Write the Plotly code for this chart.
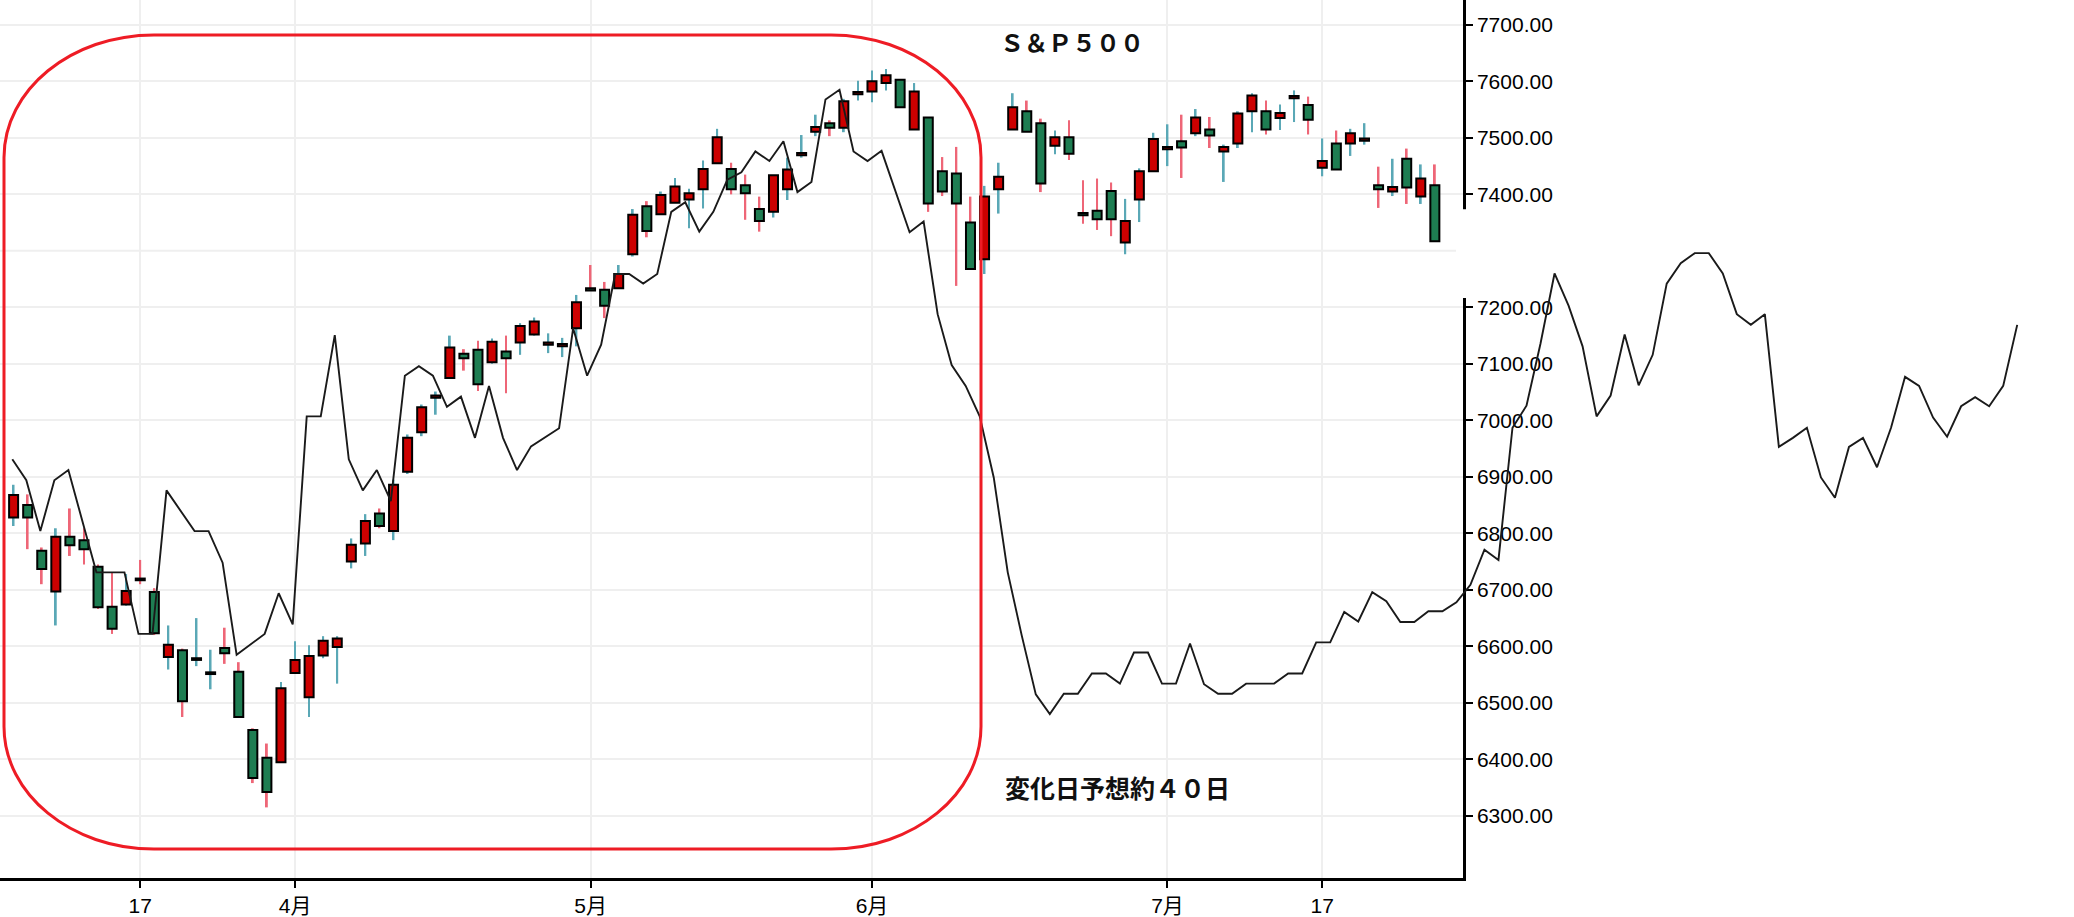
import pandas as pd
import plotly.graph_objects as go

# trading days (NYSE holidays removed)
holidays = ["2026-04-03", "2026-05-25", "2026-06-19", "2026-07-03"]
dates = pd.bdate_range("2026-03-04", "2026-07-29", freq="C",
                       holidays=holidays).strftime("%Y-%m-%d").tolist()

opens = [6828, 6850, 6769, 6697, 6794, 6788, 6741, 6670, 6674, 6720,
         6696, 6581, 6593, 6576, 6551, 6597, 6555, 6452, 6403, 6395,
         6553, 6510, 6584, 6599, 6750, 6782, 6835, 6804, 6909, 6979,
         7040, 7075, 7118, 7125, 7103, 7122, 7138, 7152, 7134, 7131,
         7163, 7234, 7231, 7234, 7294, 7379, 7365, 7385, 7391, 7409,
         7455, 7445, 7416, 7374, 7369, 7409, 7469, 7511, 7526, 7518,
         7577, 7582, 7597, 7603, 7515, 7536, 7441, 7437, 7350, 7285,
         7409, 7515, 7547, 7526, 7486, 7501, 7367, 7371, 7406, 7315,
         7391, 7441, 7480, 7494, 7508, 7515, 7476, 7490, 7547, 7547,
         7535, 7570, 7558, 7447, 7490, 7490, 7495, 7416, 7405, 7463,
         7396, 7416]
closes = [6868, 6828, 6737, 6794, 6779, 6772, 6669, 6631, 6698, 6717,
          6623, 6603, 6503, 6579, 6554, 6588, 6475, 6367, 6342, 6526,
          6576, 6583, 6610, 6614, 6780, 6822, 6813, 6886, 6969, 7023,
          7044, 7129, 7110, 7064, 7139, 7110, 7167, 7175, 7138, 7135,
          7209, 7230, 7203, 7259, 7364, 7335, 7399, 7414, 7402, 7445,
          7501, 7409, 7402, 7353, 7434, 7444, 7473, 7519, 7518, 7565,
          7581, 7600, 7611, 7554, 7582, 7384, 7405, 7384, 7268, 7396,
          7431, 7554, 7511, 7419, 7501, 7472, 7363, 7356, 7356, 7353,
          7441, 7498, 7484, 7483, 7536, 7504, 7484, 7543, 7575, 7515,
          7544, 7574, 7532, 7459, 7444, 7508, 7499, 7409, 7413, 7412,
          7428, 7317]
highs = [6886, 6869, 6775, 6809, 6844, 6809, 6745, 6731, 6728, 6753,
         6703, 6637, 6596, 6650, 6594, 6633, 6572, 6455, 6428, 6537,
         6609, 6602, 6618, 6618, 6791, 6834, 6844, 6895, 6975, 7028,
         7051, 7150, 7126, 7141, 7145, 7150, 7172, 7182, 7154, 7146,
         7222, 7275, 7245, 7275, 7374, 7388, 7405, 7429, 7410, 7460,
         7516, 7456, 7435, 7396, 7434, 7465, 7505, 7541, 7531, 7569,
         7601, 7619, 7622, 7603, 7597, 7536, 7466, 7484, 7396, 7415,
         7456, 7579, 7566, 7534, 7513, 7531, 7425, 7428, 7421, 7392,
         7446, 7509, 7524, 7541, 7551, 7537, 7488, 7547, 7579, 7566,
         7559, 7584, 7573, 7499, 7513, 7516, 7526, 7449, 7463, 7481,
         7453, 7453]
lows = [6813, 6772, 6710, 6637, 6760, 6745, 6666, 6622, 6672, 6710,
        6620, 6559, 6475, 6565, 6524, 6569, 6475, 6358, 6315, 6395,
        6553, 6475, 6579, 6534, 6738, 6760, 6809, 6788, 6905, 6972,
        7010, 7075, 7088, 7052, 7100, 7048, 7116, 7150, 7119, 7112,
        7131, 7230, 7181, 7234, 7290, 7324, 7365, 7385, 7340, 7375,
        7455, 7400, 7355, 7334, 7359, 7390, 7465, 7503, 7503, 7510,
        7566, 7563, 7584, 7554, 7515, 7369, 7397, 7238, 7268, 7259,
        7366, 7515, 7511, 7404, 7471, 7461, 7348, 7337, 7326, 7294,
        7351, 7441, 7450, 7429, 7503, 7482, 7422, 7482, 7510, 7506,
        7514, 7528, 7506, 7432, 7444, 7468, 7488, 7376, 7397, 7383,
        7383, 7317]

# overlay line (cycle projection), one point per trading day from Mar 4
cycle_line = [6931, 6894, 6804, 6894, 6912, 6822, 6731, 6731, 6731, 6622,
              6622, 6876, 6839, 6804, 6804, 6748, 6585, 6603, 6622, 6694,
              6639, 7007, 7007, 7151, 6931, 6876, 6912, 6857, 7079, 7096,
              7079, 7024, 7042, 6969, 7061, 6969, 6912, 6954, 6970, 6986,
              7163, 7079, 7134, 7259, 7259, 7242, 7259, 7369, 7386, 7334,
              7369, 7426, 7439, 7476, 7459, 7494, 7404, 7422, 7568, 7585,
              7476, 7459, 7477, 7405, 7333, 7352, 7188, 7098, 7061, 7007,
              6899, 6731, 6619, 6515, 6480, 6516, 6516, 6552, 6552, 6534,
              6589, 6589, 6534, 6534, 6605, 6533, 6516, 6516, 6534, 6534,
              6534, 6552, 6552, 6607, 6607, 6661, 6644, 6696, 6680, 6643,
              6643, 6662, 6662, 6678, 6709, 6771, 6753, 6987, 7026, 7136,
              7260, 7203, 7131, 7007, 7044, 7152, 7062, 7116, 7242, 7278,
              7296, 7296, 7260, 7188, 7169, 7188, 6953, 6969, 6987, 6899,
              6863, 6953, 6969, 6917, 6987, 7077, 7061, 7005, 6971, 7025,
              7041, 7025, 7061, 7169]
line_days = list(range(len(cycle_line)))

tick_dates = ["2026-03-17", "2026-04-01", "2026-05-01", "2026-06-01",
              "2026-07-01", "2026-07-17"]
tick_text = ["17", "4月", "5月", "6月", "7月", "17"]
price_ticks = [6300, 6400, 6500, 6600, 6700, 6800, 6900, 7000,
               7100, 7200, 7400, 7500, 7600, 7700]

UP_BODY, DOWN_BODY = "#cc0000", "#1e7d52"
UP_WICK, DOWN_WICK = "#5aa8b6", "#ee6677"
GRID = "#efefef"
W, H, B = 2074, 917, 36
PH = H - B
Y_RANGE = [6190, 7744]

is_up = [c >= o for o, c in zip(opens, closes)]

fig = go.Figure()
# wicks (thin bars so the bodies can sit on top of them)
fig.add_trace(go.Bar(
    x=dates,
    y=[h - l for h, l in zip(highs, lows)],
    base=lows,
    width=0.13,
    marker=dict(color=[UP_WICK if u else DOWN_WICK for u in is_up],
                line=dict(width=0)),
    hoverinfo="skip",
))
# bodies
fig.add_trace(go.Bar(
    x=dates,
    y=[abs(c - o) for o, c in zip(opens, closes)],
    base=[min(o, c) for o, c in zip(opens, closes)],
    width=0.64,
    marker=dict(color=[UP_BODY if u else DOWN_BODY for u in is_up],
                line=dict(color="black", width=2)),
))
fig.add_trace(go.Scatter(x=line_days, y=cycle_line, mode="lines",
                         line=dict(color="#1a1a1a", width=1.9),
                         xaxis="x2", yaxis="y2", hoverinfo="skip"))


def px_x(v):
    return v / W


def px_y(v):
    return 1 - v / PH


# red rounded frame
x0, x1, y0, y1, rx, ry, k = 4, 981, 35, 852, 150, 123, 0.5523
pts = [
    ("M", [(x0 + rx, y0)]),
    ("L", [(x1 - rx, y0)]),
    ("C", [(x1 - rx + k * rx, y0), (x1, y0 + ry - k * ry), (x1, y0 + ry)]),
    ("L", [(x1, y1 - ry)]),
    ("C", [(x1, y1 - ry + k * ry), (x1 - rx + k * rx, y1), (x1 - rx, y1)]),
    ("L", [(x0 + rx, y1)]),
    ("C", [(x0 + rx - k * rx, y1), (x0, y1 - ry + k * ry), (x0, y1 - ry)]),
    ("L", [(x0, y0 + ry)]),
    ("C", [(x0, y0 + ry - k * ry), (x0 + rx - k * rx, y0), (x0 + rx, y0)]),
]
path = " ".join(cmd + " " + " ".join(f"{px_x(a):.5f},{px_y(b):.5f}" for a, b in p)
                for cmd, p in pts) + " Z"

shapes = [
    # 7300 grid line (its label is missing in the source)
    dict(type="line", xref="x domain", yref="y", x0=0, x1=1, y0=7300, y1=7300,
         line=dict(color=GRID, width=2), layer="below"),
    # seam in the right axis line
    dict(type="rect", xref="paper", yref="paper", x0=px_x(1456), x1=px_x(1472),
         y0=px_y(299), y1=px_y(210), fillcolor="white", line=dict(width=0),
         layer="above"),
    dict(type="path", xref="paper", yref="paper", path=path,
         line=dict(color="#ee1c25", width=3)),
]

annotations = [
    dict(text="<b>Ｓ＆Ｐ５００</b>", xref="paper", yref="paper", x=px_x(998), y=px_y(42),
         xanchor="left", yanchor="middle", showarrow=False,
         font=dict(family="Noto Sans CJK JP", size=24, color="#111111")),
    dict(text="<b>変化日予想約４０日</b>", xref="paper", yref="paper",
         x=px_x(1003), y=px_y(790), xanchor="left", yanchor="middle", showarrow=False,
         font=dict(family="Noto Sans CJK JP", size=25, color="#111111")),
]

axis_font = dict(family="Liberation Sans, Arial, Noto Sans CJK JP", size=21, color="black")

fig.update_layout(
    width=W, height=H,
    margin=dict(l=0, r=0, t=0, b=B),
    paper_bgcolor="white", plot_bgcolor="rgba(0,0,0,0)",
    showlegend=False,
    barmode="overlay",
    xaxis=dict(type="category", domain=[0, px_x(1463)], range=[-0.967, 103.0],
               categoryorder="array", categoryarray=dates,
               tickmode="array", tickvals=tick_dates, ticktext=tick_text,
               tickfont=axis_font,
               ticks="outside", ticklen=7, tickwidth=2, tickcolor="black",
               showline=True, linewidth=2.5, linecolor="black",
               showgrid=True, gridcolor=GRID, gridwidth=2, fixedrange=True),
    yaxis=dict(range=Y_RANGE, side="right", tickvals=price_ticks, tickformat=".2f",
               tickfont=axis_font, ticks="outside", ticklen=7, tickwidth=2,
               tickcolor="black", showline=True, linewidth=2.5, linecolor="black",
               showgrid=True, gridcolor=GRID, gridwidth=2, zeroline=False,
               fixedrange=True),
    xaxis2=dict(domain=[0, 1], anchor="y2", range=[-0.877, 147.05], visible=False,
                fixedrange=True),
    yaxis2=dict(domain=[0, 1], anchor="x2", range=Y_RANGE, visible=False,
                fixedrange=True),
    shapes=shapes,
    annotations=annotations,
)

fig.write_html("out.html", config={"displayModeBar": False},
               post_script="document.body.style.margin='0';")
